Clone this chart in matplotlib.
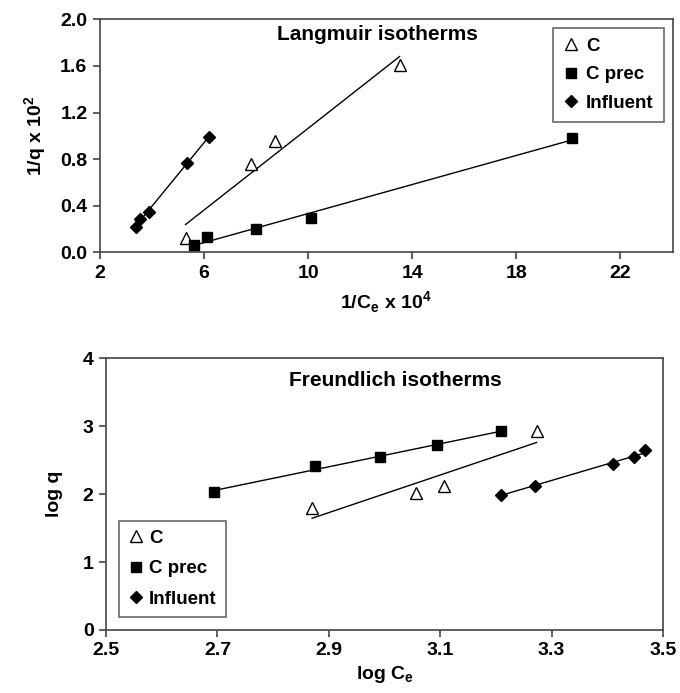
import numpy as np
import matplotlib
matplotlib.use("Agg")
import matplotlib.pyplot as plt

plt.rcParams['font.family'] = ['Liberation Sans', 'DejaVu Sans']
plt.rcParams['font.weight'] = 'bold'
plt.rcParams['mathtext.default'] = 'bf'

# Langmuir data (1/Ce x 10^4, 1/q x 10^2)
lang_c_x = [5.29, 7.82, 8.74, 13.51]
lang_c_y = [0.12, 0.76, 0.955, 1.61]
lang_prec_x = [5.63, 6.11, 7.99, 10.09, 20.14]
lang_prec_y = [0.063, 0.13, 0.197, 0.29, 0.98]
lang_inf_x = [3.38, 3.53, 3.88, 5.36, 6.18]
lang_inf_y = [0.22, 0.286, 0.35, 0.77, 0.99]

# Freundlich data (log Ce, log q)
fr_c_x = [2.870, 3.056, 3.106, 3.273]
fr_c_y = [1.797, 2.017, 2.115, 2.933]
fr_prec_x = [2.693, 2.875, 2.992, 3.094, 3.209]
fr_prec_y = [2.027, 2.409, 2.546, 2.722, 2.923]
fr_inf_x = [3.210, 3.270, 3.411, 3.448, 3.467]
fr_inf_y = [1.993, 2.125, 2.443, 2.541, 2.644]

lang_xticks = [2, 6, 10, 14, 18, 22]
lang_yticks = [0.0, 0.4, 0.8, 1.2, 1.6, 2.0]
fr_xticks = [2.5, 2.7, 2.9, 3.1, 3.3, 3.5]
fr_yticks = [0, 1, 2, 3, 4]

series_style = [
    ("C", dict(marker='^', mfc='white', mec='black', ms=8, mew=1.0)),
    ("C prec", dict(marker='s', mfc='black', mec='black', ms=7.5)),
    ("Influent", dict(marker='D', mfc='black', mec='black', ms=6.5)),
]

TICK_FS = 14
LABEL_FS = 14
TITLE_FS = 15
LEG_FS = 13.5


def draw_series(ax, xs, ys, label, style):
    xs = np.array(xs)
    ys = np.array(ys)
    # linear trend line over the data range
    k, b = np.polyfit(xs, ys, 1)
    xx = np.array([xs.min(), xs.max()])
    ax.plot(xx, k * xx + b, color='black', lw=1.0, zorder=2)
    ax.plot(xs, ys, ls='none', label=label, zorder=3, **style)


def style_axes(ax):
    for s in ax.spines.values():
        s.set_color('#444444')
        s.set_linewidth(1.2)
    ax.tick_params(direction='out', length=5, width=1.2, color='#444444',
                   labelsize=TICK_FS, pad=4)
    for lab in ax.get_xticklabels() + ax.get_yticklabels():
        lab.set_fontweight('bold')


def add_legend(ax, **kw):
    leg = ax.legend(fontsize=LEG_FS, frameon=True, fancybox=False,
                    edgecolor='#444444', handlelength=0.8, borderaxespad=0,
                    **kw)
    leg.get_frame().set_linewidth(1.2)
    for t in leg.get_texts():
        t.set_fontweight('bold')
    return leg


fig = plt.figure(figsize=(6.8, 6.93), dpi=100)

# --- Langmuir ---
ax1 = fig.add_axes([0.147, 0.636, 0.842, 0.336])
data1 = [(lang_c_x, lang_c_y), (lang_prec_x, lang_prec_y), (lang_inf_x, lang_inf_y)]
for (xs, ys), (lab, st) in zip(data1, series_style):
    draw_series(ax1, xs, ys, lab, st)
ax1.set_xlim(2, 24)
ax1.set_ylim(0, 2.0)
ax1.set_xticks(lang_xticks)
ax1.set_yticks(lang_yticks)
ax1.set_yticklabels([f"{v:.1f}" for v in lang_yticks])
style_axes(ax1)
ax1.set_xlabel(r"1/C$_\mathregular{e}$ x 10$^\mathregular{4}$", fontsize=LABEL_FS,
               fontweight='bold', labelpad=5)
ax1.set_ylabel(r"1/q x 10$^\mathregular{2}$", fontsize=LABEL_FS, fontweight='bold',
               labelpad=8)
ax1.text(0.484, 0.937, "Langmuir isotherms", transform=ax1.transAxes,
         ha='center', va='center', fontsize=TITLE_FS, fontweight='bold')
add_legend(ax1, loc='upper right', bbox_to_anchor=(0.985, 0.965),
           handletextpad=0.4, borderpad=0.55, labelspacing=0.6)

# --- Freundlich ---
ax2 = fig.add_axes([0.156, 0.091, 0.819, 0.392])
data2 = [(fr_c_x, fr_c_y), (fr_prec_x, fr_prec_y), (fr_inf_x, fr_inf_y)]
for (xs, ys), (lab, st) in zip(data2, series_style):
    draw_series(ax2, xs, ys, lab, st)
ax2.set_xlim(2.5, 3.5)
ax2.set_ylim(0, 4)
ax2.set_xticks(fr_xticks)
ax2.set_yticks(fr_yticks)
ax2.set_xticklabels([f"{v:.1f}" for v in fr_xticks])
style_axes(ax2)
ax2.set_xlabel(r"log C$_\mathregular{e}$", fontsize=LABEL_FS, fontweight='bold',
               labelpad=3)
ax2.set_ylabel("log q", fontsize=LABEL_FS, fontweight='bold', labelpad=14)
ax2.text(0.519, 0.92, "Freundlich isotherms", transform=ax2.transAxes,
         ha='center', va='center', fontsize=TITLE_FS, fontweight='bold')
add_legend(ax2, loc='lower left', bbox_to_anchor=(0.023, 0.048),
           handletextpad=0.3, borderpad=0.5, labelspacing=0.7)

fig.savefig("out.png", dpi=100, facecolor='white')
